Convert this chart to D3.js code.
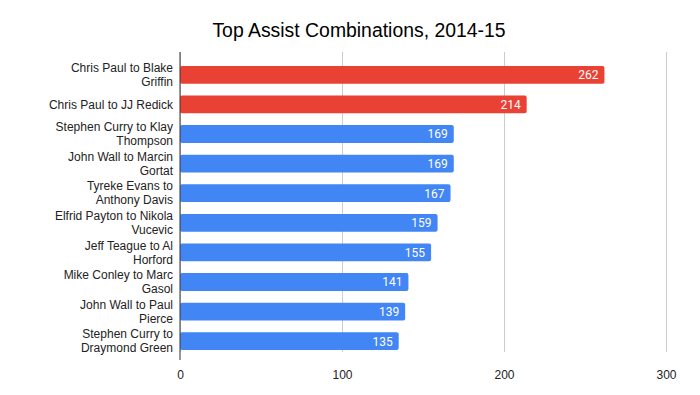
<!DOCTYPE html>
<html>
<head>
<meta charset="utf-8">
<script src="https://cdn.jsdelivr.net/npm/d3@7"></script>
<style>
  body { margin: 0; background: #fff; }
</style>
</head>
<body>
<div id="chart"></div>
<script>
// label lines (wrapped as in the original)
const labels = [
  ['Chris Paul to Blake', 'Griffin'],
  ['Chris Paul to JJ Redick'],
  ['Stephen Curry to Klay', 'Thompson'],
  ['John Wall to Marcin', 'Gortat'],
  ['Tyreke Evans to', 'Anthony Davis'],
  ['Elfrid Payton to Nikola', 'Vucevic'],
  ['Jeff Teague to Al', 'Horford'],
  ['Mike Conley to Marc', 'Gasol'],
  ['John Wall to Paul', 'Pierce'],
  ['Stephen Curry to', 'Draymond Green']
];
const assists = [262, 214, 169, 169, 167, 159, 155, 141, 139, 135];
const highlighted = [true, true, false, false, false, false, false, false, false, false];
const xTicks = [0, 100, 200, 300];

const W = 700, H = 395;
const margin = { top: 60, right: 32, bottom: 39, left: 180 };
const width = W - margin.left - margin.right;
const height = H - margin.top - margin.bottom;

const svg = d3.select('#chart').append('svg')
  .attr('width', W).attr('height', H)
  .style('font-family', 'Arial, "Liberation Sans", sans-serif');

svg.append('text')
  .attr('x', 359).attr('y', 37)
  .attr('text-anchor', 'middle')
  .attr('font-size', '19.4px').attr('fill', '#000')
  .text('Top Assist Combinations, 2014-15');

const g = svg.append('g').attr('transform', `translate(${margin.left},${margin.top})`);

const x = d3.scaleLinear().domain([0, 300]).range([0, 486]);
const y = d3.scaleBand().domain(d3.range(assists.length)).range([0, height])
  .paddingInner(0.4).paddingOuter(0.2);

// grid
g.append('g')
  .call(d3.axisBottom(x).tickValues(xTicks).tickSize(height + 4).tickFormat(''))
  .attr('transform', 'translate(0,-8)')
  .call(gg => gg.select('.domain').remove())
  .call(gg => gg.selectAll('.tick line').attr('stroke', '#cccccc'));

// x tick labels
g.append('g').attr('transform', `translate(0,${height})`)
  .call(d3.axisBottom(x).tickValues(xTicks).tickSize(0).tickPadding(14))
  .call(gg => gg.select('.domain').remove())
  .call(gg => gg.selectAll('.tick text').attr('fill', '#222').attr('font-size', '12px')
    .attr('font-family', 'Arial, "Liberation Sans", sans-serif'));

// bars
g.selectAll('rect.bar').data(assists).join('rect')
  .attr('class', 'bar')
  .attr('x', 0).attr('y', (d, i) => y(i))
  .attr('width', d => x(d)).attr('height', y.bandwidth())
  .attr('rx', 2)
  .attr('fill', (d, i) => highlighted[i] ? '#E94235' : '#4285F4');

// value labels
g.selectAll('text.val').data(assists).join('text')
  .attr('class', 'val')
  .attr('x', d => x(d) - 6).attr('y', (d, i) => y(i) + y.bandwidth() / 2)
  .attr('dy', '0.36em').attr('text-anchor', 'end')
  .attr('fill', '#fff').attr('font-size', '12px')
  .attr('font-family', 'Roboto, sans-serif')
  .text(d => d);

// zero axis line
g.append('line')
  .attr('x1', x(0)).attr('x2', x(0))
  .attr('y1', -8).attr('y2', height + 4)
  .attr('stroke', '#333').attr('stroke-width', 1);

// category labels
const lab = g.selectAll('text.cat').data(labels).join('text')
  .attr('class', 'cat')
  .attr('text-anchor', 'end').attr('font-size', '12px').attr('fill', '#222');
lab.each(function(lines, i) {
  const cy = y(i) + y.bandwidth() / 2;
  const lh = 14;
  const y0 = cy - (lines.length - 1) * lh / 2;
  d3.select(this).selectAll('tspan').data(lines).join('tspan')
    .attr('x', -7).attr('y', (l, j) => y0 + j * lh).attr('dy', '0.35em')
    .text(l => l);
});
</script>
</body>
</html>
